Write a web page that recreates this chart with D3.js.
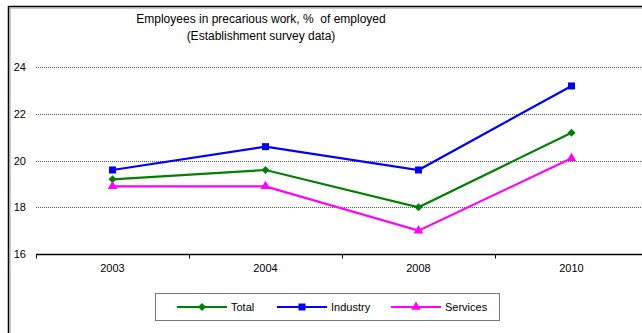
<!DOCTYPE html>
<html><head><meta charset="utf-8">
<script src="https://cdn.jsdelivr.net/npm/d3@7"></script>
<style>body{margin:0;background:#fff}svg{display:block;font-family:"Liberation Sans",Arial,sans-serif}text{white-space:pre}</style>
</head><body>
<svg id="c" width="642" height="333"></svg>
<script>
const categories = ["2003", "2004", "2008", "2010"];
const total = [19.2, 19.6, 18.0, 21.2];
const industry = [19.6, 20.6, 19.6, 23.2];
const services = [18.9, 18.9, 17.0, 20.1];
const yTicks = [16, 18, 20, 22, 24];
const seriesNames = ["Total", "Industry", "Services"];
const seriesColors = ["#008000", "#0000ff", "#ff00ff"];
const seriesSymbols = ["diamond", "square", "triangle"];
const titleLines = ["Employees in precarious work, %  of employed", "(Establishment survey data)"];

const series = [total, industry, services].map((v, i) => ({name: seriesNames[i], values: v, color: seriesColors[i], symbol: seriesSymbols[i]}));

function symbolPath(t) {
  if (t === "square") return d3.symbol().type(d3.symbolSquare).size(49)();
  if (t === "triangle") return d3.symbol().type(d3.symbolTriangle).size(40)();
  return "M0,-4L4,0L0,4L-4,0Z";
}

const svg = d3.select("#c");
// outer frame
svg.append("rect").attr("x", 8.5).attr("y", 6.5).attr("width", 700).attr("height", 400)
  .attr("fill", "none").attr("stroke", "#000").attr("stroke-width", 1.5);
svg.append("line").attr("x1", 10).attr("x2", 10).attr("y1", 8).attr("y2", 340).attr("stroke", "#999").attr("stroke-width", 1);
svg.append("line").attr("x1", 10).attr("x2", 700).attr("y1", 8).attr("y2", 8).attr("stroke", "#999").attr("stroke-width", 1);

const x = d3.scaleBand().domain(categories).range([36, 648]);
const y = d3.scaleLinear().domain([16, 24]).range([254, 67.3]);

// gridlines
svg.append("g").selectAll("line").data(yTicks.filter(t => t > 16)).join("line")
  .attr("x1", 36).attr("x2", 648)
  .attr("y1", d => Math.round(y(d)) + 0.5).attr("y2", d => Math.round(y(d)) + 0.5)
  .attr("stroke", "#555").attr("stroke-width", 1).attr("stroke-dasharray", "1,1");

// y labels
svg.append("g").selectAll("text").data(yTicks).join("text")
  .attr("x", 26).attr("y", d => y(d)).attr("dy", "0.35em")
  .attr("text-anchor", "end").attr("font-size", 11).attr("fill", "#000").text(d => d);

// x axis
const xAxisG = svg.append("g").attr("transform", `translate(0,${Math.round(y(16)) + 0.5})`);
xAxisG.append("line").attr("x1", 36).attr("x2", 648).attr("stroke", "#000").attr("stroke-width", 1.3);
const bounds = categories.map(c => x(c)).concat([x.range()[1]]);
xAxisG.selectAll("line.tick").data(bounds).join("line").attr("class", "tick")
  .attr("x1", d => Math.round(d) + 0.5).attr("x2", d => Math.round(d) + 0.5).attr("y1", 0).attr("y2", 4)
  .attr("stroke", "#000");
xAxisG.selectAll("text").data(categories).join("text")
  .attr("x", d => x(d) + x.bandwidth() / 2).attr("y", 14).attr("dy", "0.35em")
  .attr("text-anchor", "middle").attr("font-size", 11).text(d => d);

// title
svg.append("g").selectAll("text").data(titleLines).join("text")
  .attr("x", 261).attr("y", (d, i) => 23 + i * 17)
  .attr("text-anchor", "middle").attr("font-size", 12).text(d => d);

// lines
const line = d3.line().x((d, i) => x(categories[i]) + x.bandwidth() / 2).y(d => y(d));
series.forEach(s => {
  svg.append("path").datum(s.values).attr("d", line)
    .attr("fill", "none").attr("stroke", s.color).attr("stroke-width", 2.2);
  svg.append("g").selectAll("path").data(s.values).join("path")
    .attr("transform", (d, i) => `translate(${x(categories[i]) + x.bandwidth() / 2},${y(d)})`)
    .attr("d", symbolPath(s.symbol))
    .attr("fill", s.color);
});

// legend
const lg = svg.append("g");
lg.append("rect").attr("x", 155.5).attr("y", 293.5).attr("width", 344).attr("height", 27)
  .attr("fill", "#fff").attr("stroke", "#777").attr("stroke-width", 1);
const legX = [177, 277, 391];
series.forEach((s, i) => {
  const g = lg.append("g").attr("transform", `translate(${legX[i]},307)`);
  g.append("line").attr("x1", 0).attr("x2", 50).attr("stroke", s.color).attr("stroke-width", 2.2);
  g.append("path").attr("transform", "translate(25,0)")
    .attr("d", symbolPath(s.symbol)).attr("fill", s.color);
  g.append("text").attr("x", 54).attr("dy", "0.35em").attr("font-size", 11).text(s.name);
});
</script>
</body></html>
